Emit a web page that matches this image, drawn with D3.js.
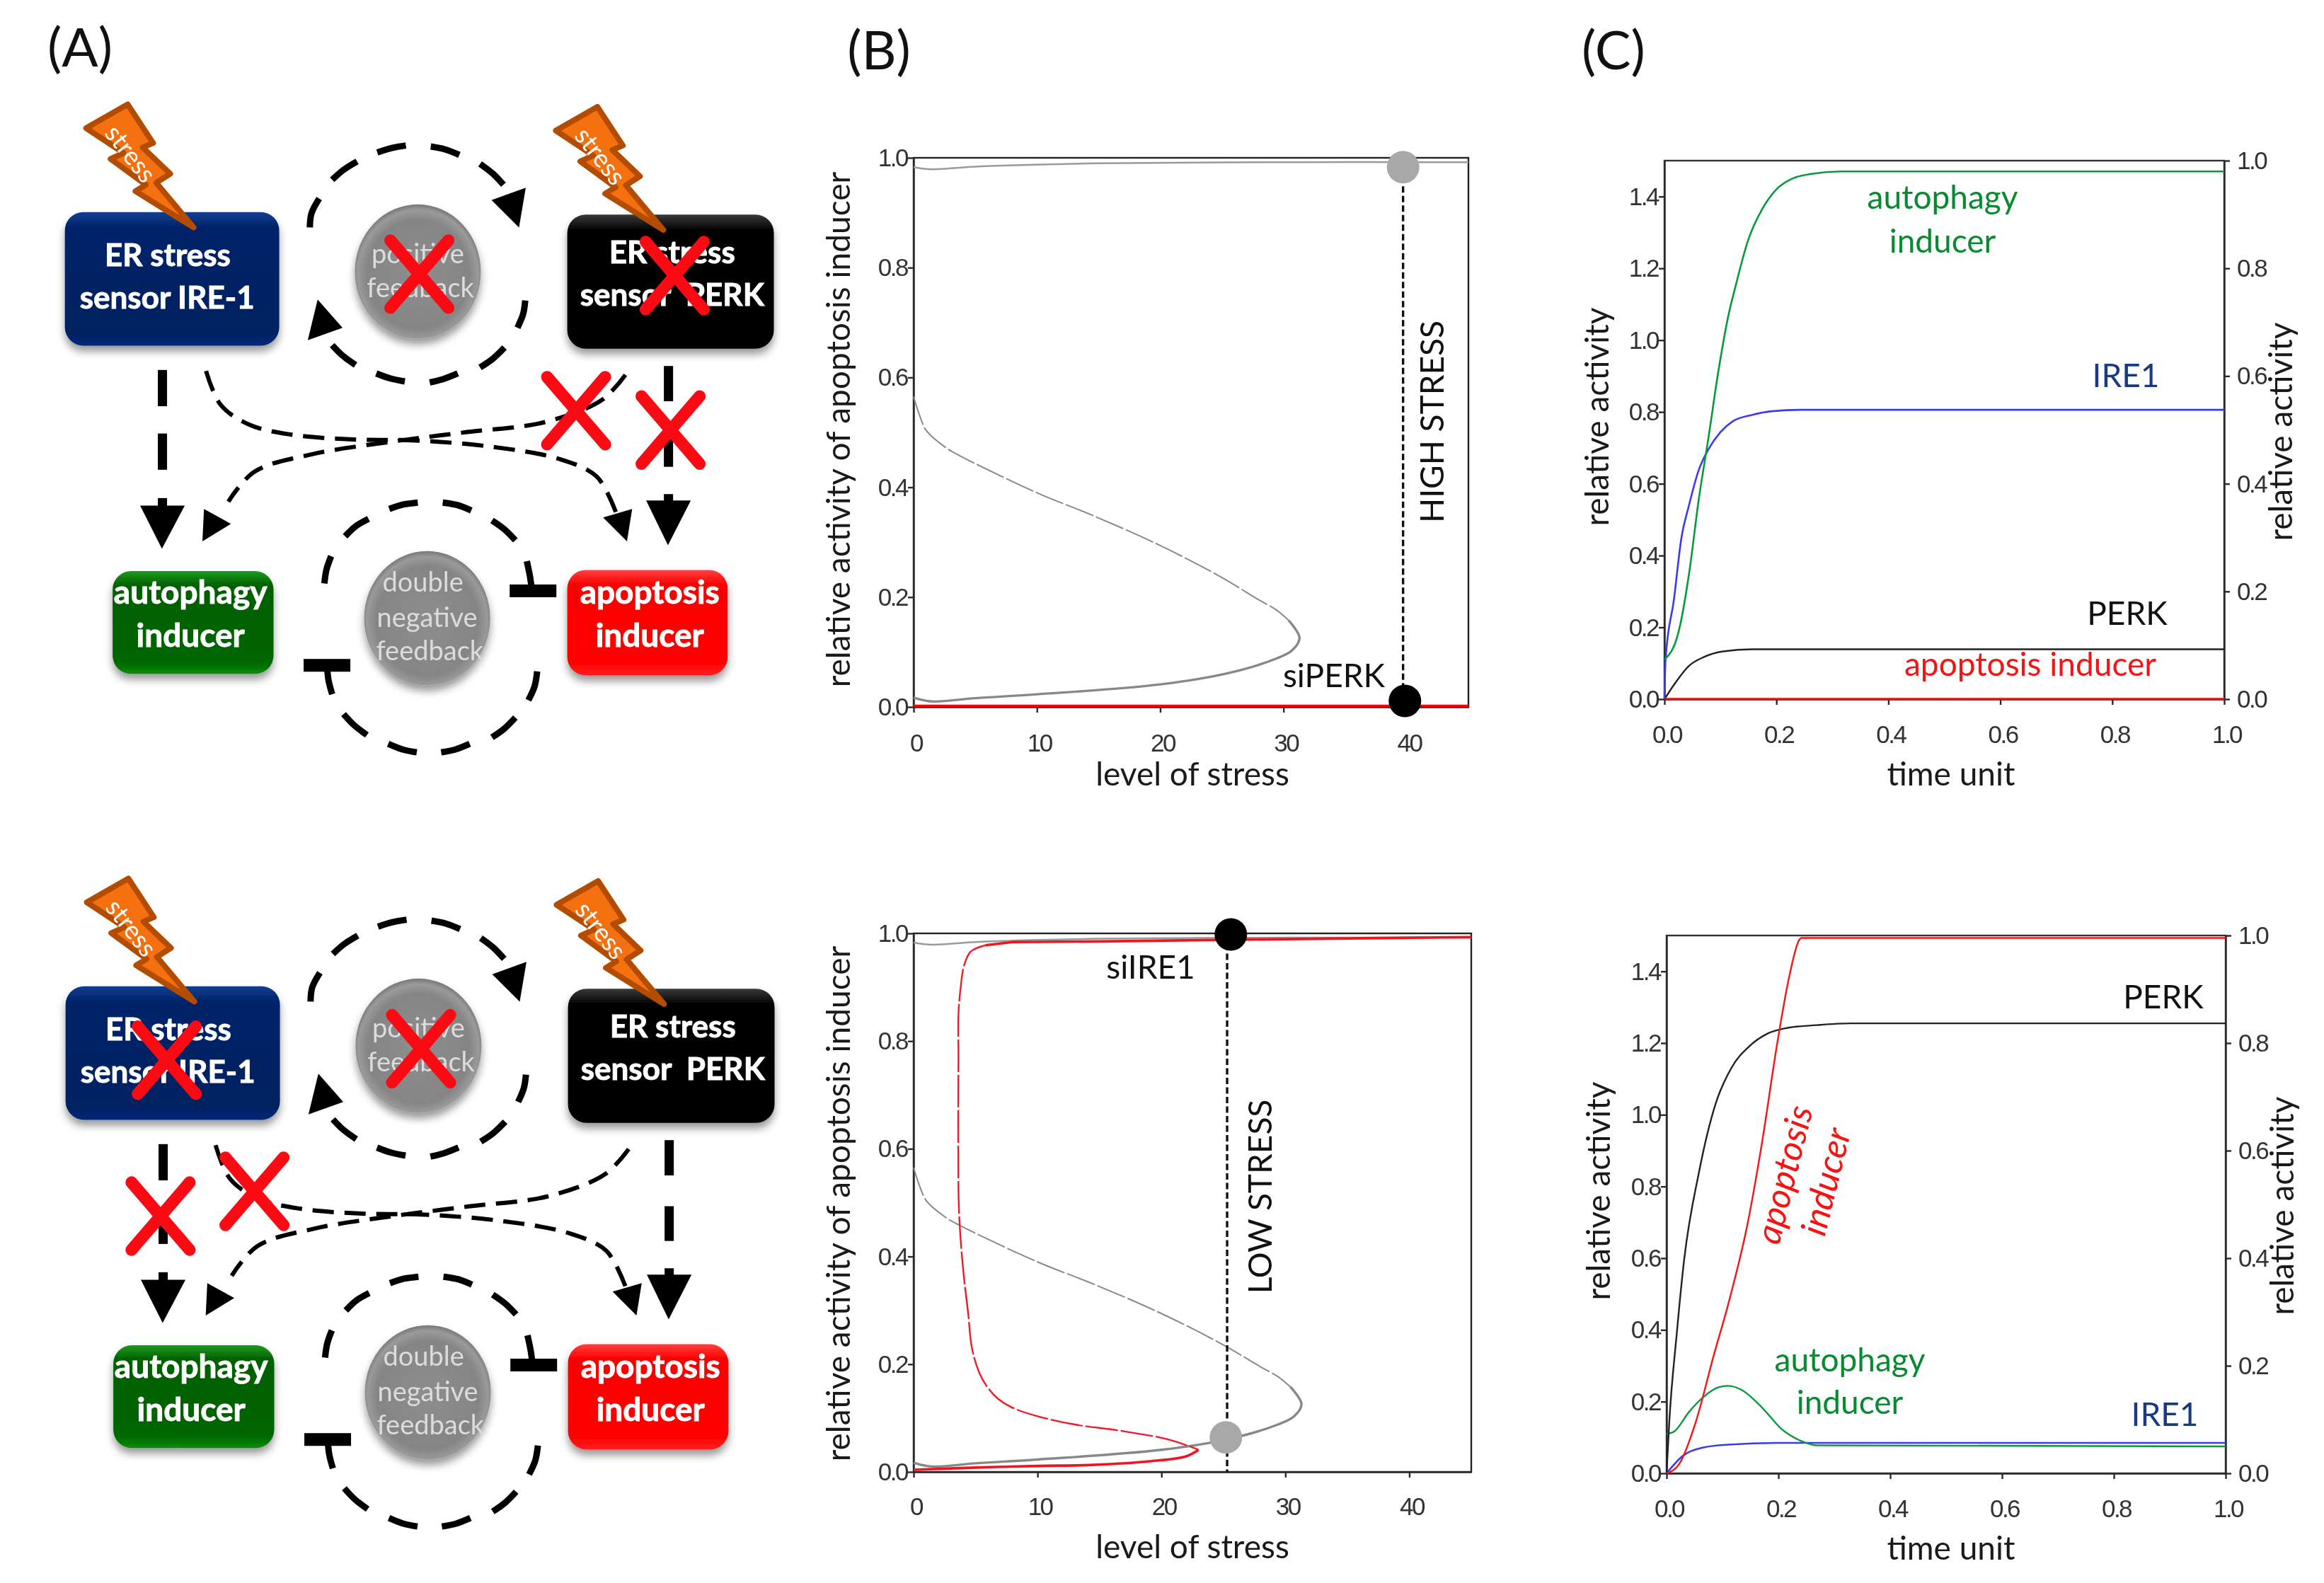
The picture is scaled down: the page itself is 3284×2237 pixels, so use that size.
<!DOCTYPE html>
<html><head><meta charset="utf-8">
<script src="https://cdn.jsdelivr.net/npm/d3@7/dist/d3.min.js"></script>
<style>html,body{margin:0;padding:0;background:#fff}svg{display:block;filter:blur(0.6px)}</style>
</head><body><svg id="c" width="3284" height="2237"></svg>
<script>
// ---------- bifurcation data (stress, activity)
const grayUpper = [[0,.983],[1.5,.979],[5,.984],[15,.99],[30,.992],[45,.992]];
const grayMiddle = [[0,.565],[.5,.53],[1.04,.503],[2.5,.474],[3.7,.458],[10,.39],[14.5,.349],[20,.294],[24.9,.237],[28,.195],[29.4,.177],[30.4,.158]];
const grayLower = [[30.4,.158],[31.3,.126],[30.7,.103],[29.4,.088],[25.6,.062],[20,.041],[10,.023],[5,.016],[1.5,.01],[0,.017]];
const redHighStress = [[0,.002],[45,.002]];
const redUpper = [[45,.993],[40,.992],[25,.988],[15,.985],[8,.984],[5.8,.978]];
const redMiddle = [[5.8,.978],[4.6,.966],[4.07,.94],[3.8,.9],[3.62,.85],[3.62,.77],[3.6,.65],[3.65,.494],[3.8,.43],[4.07,.36],[4.4,.295],[4.7,.231],[5.3,.184],[6,.156],[6.8,.136],[7.9,.12],[9.9,.104],[13,.088],[16.8,.076],[20.6,.06],[23,.041]];
const redLower = [[23,.041],[22,.029],[19.2,.02],[14.4,.013],[10,.011],[5,.008],[0,.004]];
// ---------- time-course data (time, activity)
const timeTopAutophagy = [[0,.11],[.0245,.183],[.044,.35],[.061,.553],[.079,.732],[.096,.91],[.114,1.067],[.127,1.15],[.149,1.276],[.175,1.366],[.2,1.42],[.227,1.449],[.262,1.463],[.315,1.47],[1,1.47]];
const timeTopIRE1 = [[0,0],[.002,.11],[.017,.278],[.03,.446],[.044,.541],[.061,.637],[.079,.697],[.1,.744],[.122,.774],[.157,.792],[.192,.802],[.245,.806],[1,.806]];
const timeTopPERK = [[0,0],[.017,.04],[.044,.093],[.07,.117],[.105,.133],[.157,.139],[1,.139]];
const timeTopApoptosis = [[0,.001],[1,.001]];
const timeBotPERK = [[0,0],[.005,.147],[.018,.386],[.031,.59],[.058,.84],[.088,1.032],[.115,1.128],[.15,1.194],[.18,1.226],[.215,1.242],[.268,1.25],[.329,1.255],[1,1.255]];
const timeBotApoptosis = [[0,0],[.023,.027],[.053,.147],[.084,.327],[.11,.47],[.145,.697],[.171,.925],[.198,1.2],[.22,1.39],[.237,1.487],[.241,1.493],[1,1.493]];
const timeBotAutophagy = [[0,.11],[.014,.117],[.04,.171],[.066,.213],[.093,.24],[.11,.244],[.136,.231],[.171,.183],[.206,.123],[.241,.09],[.268,.078],[1,.075]];
const timeBotIRE1 = [[0,0],[.031,.051],[.066,.072],[.11,.08],[.198,.085],[1,.085]];
// ---------- tick values
const stressTicks = [0,10,20,30,40];
const bifTicks = [0,.2,.4,.6,.8,1];
const timeTicks = [0,.2,.4,.6,.8,1];
const leftTicks = [0,.2,.4,.6,.8,1,1.2,1.4];
const rightTicks = [0,.2,.4,.6,.8,1];

const svg = d3.select('#c');
const UI = "Lato, 'Open Sans', sans-serif";
const TICKFONT = "'Liberation Sans', Arial, sans-serif";
const defs = svg.append('defs');
const shadow = defs.append('filter').attr('id','sh').attr('x','-20%').attr('y','-20%').attr('width','140%').attr('height','150%');
shadow.append('feDropShadow').attr('dx',0).attr('dy',8).attr('stdDeviation',6).attr('flood-color','#000').attr('flood-opacity',.4);
function grad(id,stops){const g=defs.append('linearGradient').attr('id',id).attr('x1',0).attr('x2',0).attr('y1',0).attr('y2',1);
  stops.forEach(([o,c])=>g.append('stop').attr('offset',o).attr('stop-color',c));}
grad('gBlue',[[0,'#0f3f8f'],[.12,'#002269'],[.9,'#002060'],[1,'#06297a']]);
grad('gBlack',[[0,'#3a3a3a'],[.12,'#000'],[1,'#000']]);
grad('gGreen',[[0,'#1f9a1f'],[.14,'#006000'],[.88,'#006600'],[1,'#0a8a0a']]);
grad('gRed',[[0,'#ff4040'],[.14,'#fb0000'],[.88,'#ff0000'],[1,'#ff2020']]);
const ball = defs.append('radialGradient').attr('id','gBall').attr('cx','50%').attr('cy','52%').attr('r','52%');
[[0,'#8e8e8e'],[.78,'#858585'],[.92,'#9a9a9a'],[1,'#777']].forEach(([o,c])=>ball.append('stop').attr('offset',o).attr('stop-color',c));

function txt(g,s,x,y,size,fill,o={}){
  const t=g.append('text').attr('x',x).attr('y',y).attr('text-anchor',o.anchor||'middle')
    .attr('font-family',o.family||UI).attr('font-size',size).attr('fill',fill).text(s);
  if(o.weight)t.attr('font-weight',o.weight);
  if(o.italic)t.attr('font-style','italic');
  if(o.rot!=null)t.attr('transform',`rotate(${o.rot} ${x} ${y})`);
  if(o.ls)t.attr('letter-spacing',o.ls);
  if(o.bold)t.attr('stroke',fill).attr('stroke-width',o.bold);
  t.style('white-space','pre');
  return t;
}
[['(A)',113],['(B)',1242],['(C)',2280]].forEach(([s,x],i)=>txt(svg,s,x,i==0?94:98,76,'#111'));

// ---------- diagrams
// sketch coordinates of the schematic map to page pixels through these scales
const skX = d3.scaleLinear().domain([0,1150*1.3635]).range([0,1150]);
const skY = d3.scaleLinear().domain([0,1100*1.425]).range([0,1100]);
const boxesSk = [
 {x0:125,x1:538,y0:427,y1:696,fill:'gBlue'},
 {x0:1093,x1:1491,y0:432,y1:702,fill:'gBlack'},
 {x0:217,x1:527,y0:1150,y1:1357,fill:'gGreen'},
 {x0:1093,x1:1402,y0:1148,y1:1360,fill:'gRed'}];
const ringPos = [[[597,458],[600,430],[615,400]],[[640,362],[662,342],[688,325]],[[727,307],[755,298],[782,293]],[[830,295],[858,301],[885,312]],[[925,330],[950,350],[970,372]],
  [[1012,605],[1008,632],[997,660]],[[972,700],[950,722],[925,740]],[[882,752],[855,763],[828,770]],[[780,768],[752,762],[725,752]],[[685,735],[660,716],[640,695]]];
const ringNeg = [[[625,1175],[629,1147],[638,1120]],[[665,1080],[685,1060],[710,1045]],[[750,1025],[777,1016],[805,1012]],[[853,1012],[881,1017],[908,1028]],[[948,1048],[972,1066],[993,1088]],
  [[1015,1130],[1021,1160],[1025,1190]],[[630,1340],[633,1370],[640,1398]],[[662,1438],[683,1461],[707,1480]],[[748,1498],[775,1509],[803,1515]],[[850,1515],[878,1509],[905,1498]],[[948,1485],[972,1467],[993,1445]],[[1018,1410],[1030,1382],[1035,1352]]];
const curveIRE = [[397,747],[425,815],[480,855],[560,875],[680,885],[800,887],[950,900],[1080,925],[1150,960],[1188,1035]];
const curvePERK = [[1205,755],[1160,805],[1050,850],[900,870],[750,890],[600,915],[490,950],[440,1010]];
const crossesTop = [[808,552],[1300,555],[1110,827],[1292,866]];
const crossesBot = [[810,553],[320,576],[308,890],[489,840]];
const boltShape = [[163,258],[243,210],[292,288],[272,297],[325,350],[298,368],[370,458],[258,385],[278,372],[210,320],[235,308]];

function diagram(dx,dy,bottom){
  const g=svg.append('g').attr('transform',`translate(${dx},${dy})`);
  const line=d3.line().x(d=>skX(d[0])).y(d=>skY(d[1]));
  const smooth=d3.line().x(d=>skX(d[0])).y(d=>skY(d[1])).curve(d3.curveCatmullRom.alpha(.5));
  const tri=(pts)=>g.append('path').attr('d',line(pts)+'Z').attr('fill','#000');
  // circles
  [[805,547],[823,1245]].forEach(([cx,cy])=>g.append('ellipse').attr('cx',skX(cx)).attr('cy',skY(cy)).attr('rx',89).attr('ry',95).attr('fill','url(#gBall)').attr('filter','url(#sh)'));
  // rings
  ringPos.concat(ringNeg).forEach(d=>g.append('path').attr('d',smooth(d)).attr('fill','none').attr('stroke','#000').attr('stroke-width',9));
  tri([[1013,378],[1000,458],[947,403]]);
  tri([[593,685],[660,660],[612,603]]);
  // bars of the inhibition arrows
  [[982,1190,1072],[585,1340,675]].forEach(([a,y,b])=>g.append('rect').attr('x',skX(a)).attr('y',skY(y-13)).attr('width',skX(b)-skX(a)).attr('height',18).attr('fill','#000'));
  // straight arrows
  [[313,[[745,818],[873,946],[1003,1030]],1018,1105],[1288,[[737,808],[870,940],[995,1020]],1008,1098]].forEach(([x,segs,by,tip])=>{
    segs.forEach(([a,b])=>g.append('rect').attr('x',skX(x)-6.5).attr('width',13).attr('y',skY(a)).attr('height',skY(b)-skY(a)).attr('fill','#000'));
    tri([[x-43,by],[x+43,by],[x-1,tip]]);
  });
  // curved arrows
  const shift1 = bottom?17:0, shift2 = bottom?5:0;
  [curveIRE.map(([x,y])=>[x+shift1,y]),curvePERK.map(([x,y])=>[x+shift2,y])].forEach(c=>
    g.append('path').attr('d',smooth(c)).attr('fill','none').attr('stroke','#000').attr('stroke-width',6).attr('stroke-dasharray','30 15'));
  tri([[1208+shift1,1090],[1162+shift1,1042],[1218+shift1,1025]]);
  tri([[390+shift2,1090],[393+shift2,1025],[445+shift2,1055]]);
  // boxes
  boxesSk.forEach(b=>g.append('rect').attr('x',skX(b.x0)).attr('y',skY(b.y0)).attr('width',skX(b.x1)-skX(b.x0)).attr('height',skY(b.y1)-skY(b.y0)).attr('rx',26).attr('fill',`url(#${b.fill})`).attr('filter','url(#sh)'));
  // texts
  const T=(s,x,y,size,fill,o)=>txt(g,s,skX(x),skY(y),size,fill,o);
  const W={weight:700,bold:.9};
  T('ER stress',323,536,44,'#fff',W);T('sensor IRE-1',322,622,44,'#fff',W);
  T('ER stress',1295,530,44,'#fff',W);T('sensor  PERK',1295,616,44,'#fff',W);
  T('autophagy',367,1216,46,'#fff',W);T('inducer',367,1302,46,'#fff',W);
  T('apoptosis',1252,1216,46,'#fff',W);T('inducer',1252,1302,46,'#fff',W);
  const c='#dcdcdc';
  T('positive',805,530,38,c);T('feedback',810,598,38,c);
  T('double',815,1192,38,c);T('negative',823,1262,38,c);T('feedback',828,1330,38,c);
  // bolts
  [[3,0],[908,5]].forEach(([ox,oy])=>{
    const p=boltShape.map(([x,y])=>[x+ox,y+oy]);
    g.append('path').attr('d',line(p)+'Z').attr('fill','#f5700f').attr('stroke','#b44c00').attr('stroke-width',8).attr('stroke-linejoin','round');
    const tx=skX(248+ox),ty=skY(310+oy);
    txt(g,'stress',tx,ty+12,36,'#fff',{rot:52}).attr('transform',`rotate(52 ${tx} ${ty})`);
  });
  // crosses
  (bottom?crossesBot:crossesTop).forEach(([cx,cy])=>{
    [[-1,1],[1,1]].forEach(([a,b])=>g.append('line')
      .attr('x1',skX(cx-56*a)).attr('y1',skY(cy-68*b)).attr('x2',skX(cx+56*a)).attr('y2',skY(cy+68*b))
      .attr('stroke','#fb0a14').attr('stroke-width',17).attr('stroke-linecap','round'));
  });
}
diagram(0,0,false);
diagram(1,1094,true);

// ---------- chart helpers
function styleAxis(a,c){a.attr('font-family',TICKFONT).attr('font-size',35).attr('color',c||'#2a2a2a').attr('letter-spacing',-2.5);
  a.selectAll('line,path').attr('stroke-width',2.4);a.selectAll('text').attr('fill','#333');}
function frame(g,L,R,T,B,c){g.append('rect').attr('x',L).attr('y',T).attr('width',R-L).attr('height',B-T).attr('fill','none').attr('stroke',c||'#222').attr('stroke-width',2.4);}
const curve=(g,pts,x,y,color,w,dash,cv)=>{
  const p=g.append('path').datum(pts).attr('d',d3.line().x(d=>x(d[0])).y(d=>y(d[1])).curve(cv||d3.curveMonotoneX)).attr('fill','none').attr('stroke',color).attr('stroke-width',w);
  if(dash)p.attr('stroke-dasharray',dash);return p;};
const CR=d3.curveCatmullRom.alpha(.5);

function bifPanel(L,R,T,B,yl){
  const g=svg.append('g');
  const x=d3.scaleLinear().domain([0,45]).range([L,R]);
  const y=d3.scaleLinear().domain([0,1]).range([B,T]);
  frame(g,L,R,T,B);
  const ax=g.append('g').attr('transform',`translate(0,${B})`).call(d3.axisBottom(x).tickValues(stressTicks).tickSize(8).tickFormat(d3.format('d')).tickSizeOuter(0));
  const ay=g.append('g').attr('transform',`translate(${L},0)`).call(d3.axisLeft(y).tickValues(bifTicks).tickSize(8).tickFormat(d3.format('.1f')).tickSizeOuter(0));
  styleAxis(ax);styleAxis(ay);
  ax.selectAll('text').attr('y',yl-B).attr('dy',0).attr('dx',3);
  ay.selectAll('text').attr('x',-9).attr('dy','.33em');
  curve(g,grayUpper,x,y,'#9a9a9a',2.5,null,CR);
  curve(g,grayMiddle,x,y,'#8a8a8a',2,'42 4',CR);
  curve(g,grayLower,x,y,'#888',3.4,null,CR);
  return {g,x,y};
}
function dots(p,d1,c1,d2,c2,X){
  p.g.append('line').attr('x1',p.x(X)).attr('x2',p.x(X)).attr('y1',p.y(d1[1])).attr('y2',p.y(d2[1])).attr('stroke','#111').attr('stroke-width',3.4).attr('stroke-dasharray','9 4.5');
  [[d1,c1],[d2,c2]].forEach(([d,c])=>p.g.append('circle').attr('cx',p.x(d[0])).attr('cy',p.y(d[1])).attr('r',23).attr('fill',c));
}
const pointHighGray=[39.7,.983], pointHighBlack=[39.85,.011], pointLowBlack=[25.6,.998], pointLowGray=[25.2,.064];

// B top
const b1=bifPanel(1291,2075,223,999,1062);
curve(b1.g,redHighStress,b1.x,b1.y,'#f00',3.2,null,d3.curveLinear);
dots(b1,pointHighGray,'#a8a8a8',pointHighBlack,'#000',39.7);
// B bottom
const b2=bifPanel(1291,2079,1319,2080,2141);
curve(b2.g,redUpper,b2.x,b2.y,'#f0141e',3.6,null,d3.curveLinear);
curve(b2.g,redMiddle,b2.x,b2.y,'#f01a28',2.4,'46 4',CR);
curve(b2.g,redLower,b2.x,b2.y,'#f0141e',3.6,null,CR);
dots(b2,pointLowBlack,'#000',[25.3,0],'none',25.3);
b2.g.append('circle').attr('cx',b2.x(pointLowGray[0])).attr('cy',b2.y(pointLowGray[1])).attr('r',23).attr('fill','#a8a8a8');

function timePanel(L,R,T,B,yl){
  const g=svg.append('g');
  const x=d3.scaleLinear().domain([0,1]).range([L,R]);
  const y=d3.scaleLinear().domain([0,1.5]).range([B,T]);
  const yr=d3.scaleLinear().domain([0,1]).range([B,T]);
  frame(g,L,R,T,B,'#333');
  const ax=g.append('g').attr('transform',`translate(0,${B})`).call(d3.axisBottom(x).tickValues(timeTicks).tickSize(8).tickFormat(d3.format('.1f')).tickSizeOuter(0));
  const ay=g.append('g').attr('transform',`translate(${L},0)`).call(d3.axisLeft(y).tickValues(leftTicks).tickSize(8).tickFormat(d3.format('.1f')).tickSizeOuter(0));
  const ar=g.append('g').attr('transform',`translate(${R},0)`).call(d3.axisRight(yr).tickValues(rightTicks).tickSize(8).tickFormat(d3.format('.1f')).tickSizeOuter(0));
  [ax,ay,ar].forEach(a=>styleAxis(a));
  ax.selectAll('text').attr('y',yl-B).attr('dy',0).attr('dx',3);
  ay.selectAll('text').attr('x',-9).attr('dy','.33em');
  ar.selectAll('text').attr('x',18).attr('dy','.33em');
  return {g,x,y};
}
const GREEN='#079a3c',BLUE='#3a3af0',BLACK='#222',RED='#f81414';
const c1=timePanel(2352,3143,227,988,1050);
curve(c1.g,timeTopApoptosis,c1.x,c1.y,RED,2.4,null,d3.curveLinear);
curve(c1.g,timeTopPERK,c1.x,c1.y,BLACK,2.4);
curve(c1.g,timeTopIRE1,c1.x,c1.y,BLUE,2.6);
curve(c1.g,timeTopAutophagy,c1.x,c1.y,GREEN,2.6);
const c2=timePanel(2355,3145,1322,2082,2144);
curve(c2.g,timeBotIRE1,c2.x,c2.y,BLUE,2.6);
curve(c2.g,timeBotAutophagy,c2.x,c2.y,GREEN,2.4);
curve(c2.g,timeBotPERK,c2.x,c2.y,BLACK,2.4);
curve(c2.g,timeBotApoptosis,c2.x,c2.y,RED,2.4);

// ---------- chart texts
const S=46;
txt(svg,'level of stress',1685,1110,S,'#1a1a1a');
txt(svg,'level of stress',1685,2202,S,'#1a1a1a');
txt(svg,'relative activity of apoptosis inducer',1201,607,S,'#1a1a1a',{rot:-90});
txt(svg,'relative activity of apoptosis inducer',1201,1701,S,'#1a1a1a',{rot:-90});
txt(svg,'HIGH STRESS',2040,596,S,'#111',{rot:-90});
txt(svg,'LOW STRESS',1797,1691,S,'#111',{rot:-90});
txt(svg,'siPERK',1885,971,S,'#111');
txt(svg,'siIRE1',1626,1383,S,'#111');
txt(svg,'relative activity',2273,589,S,'#1a1a1a',{rot:-90});
txt(svg,'relative activity',3239,610,S,'#1a1a1a',{rot:-90});
txt(svg,'relative activity',2275,1683,S,'#1a1a1a',{rot:-90});
txt(svg,'relative activity',3241,1704,S,'#1a1a1a',{rot:-90});
txt(svg,'time unit',2757,1110,S,'#1a1a1a');
txt(svg,'time unit',2757,2204,S,'#1a1a1a');
const DG='#078a30',NB='#1a3a80',RD='#f41414';
txt(svg,'autophagy',2745,295,S,DG);txt(svg,'inducer',2745,357,S,DG);
txt(svg,'IRE1',3004,547,S,NB);txt(svg,'PERK',3006,883,S,'#111');
txt(svg,'apoptosis inducer',2869,955,S,RD);
txt(svg,'PERK',3057,1425,S,'#111');txt(svg,'IRE1',3059,2015,S,NB);
txt(svg,'autophagy',2614,1938,S,DG);txt(svg,'inducer',2614,1998,S,DG);
txt(svg,'apoptosis',2538,1664,50,RD,{rot:-76,italic:true});
txt(svg,'inducer',2597,1674,50,RD,{rot:-76,italic:true});
</script></body></html>
